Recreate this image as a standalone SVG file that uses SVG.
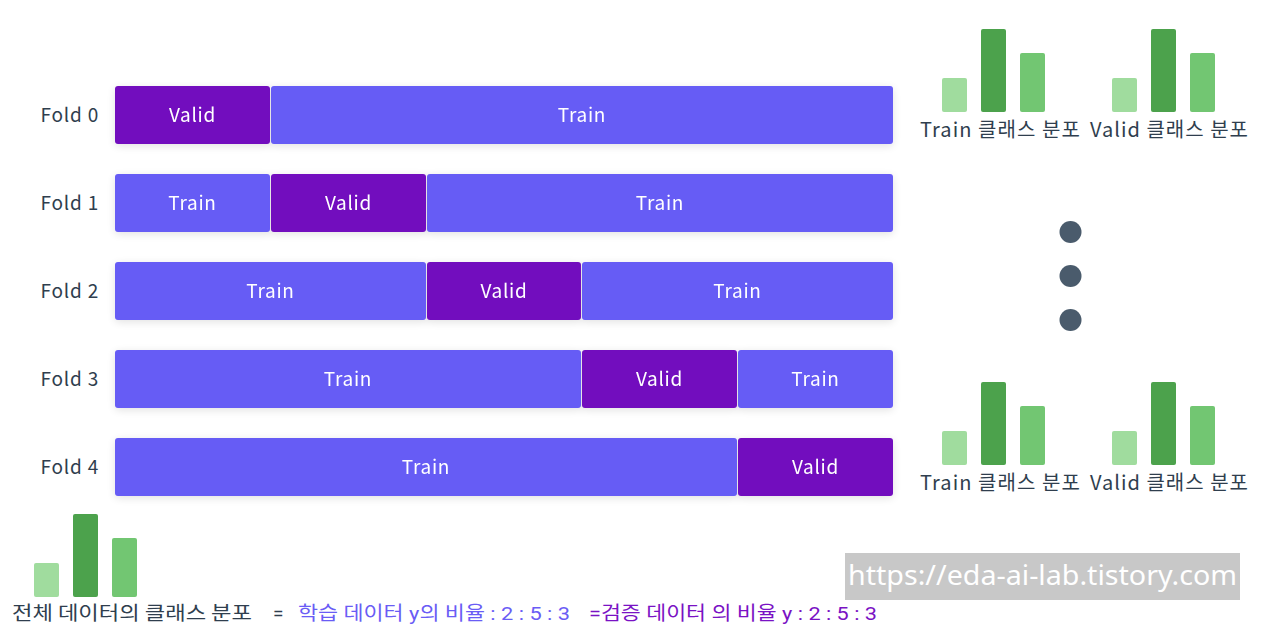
<svg xmlns="http://www.w3.org/2000/svg" width="1280" height="641" viewBox="0 0 1280 641">
<defs>
<filter id="sh" x="-5%" y="-40%" width="110%" height="180%">
<feGaussianBlur in="SourceAlpha" stdDeviation="4"/>
<feOffset dx="0" dy="2"/>
<feComponentTransfer><feFuncA type="linear" slope="0.12"/></feComponentTransfer>
<feMerge><feMergeNode/><feMergeNode in="SourceGraphic"/></feMerge>
</filter>
<style>
.tr{fill:#665BF5;}
.va{fill:#7210BE;}
.bt{font-family:"Noto Sans CJK KR","Noto Sans",sans-serif;font-size:19px;fill:#ffffff;text-anchor:middle;letter-spacing:0.7px;}
.fl{font-family:"Noto Sans CJK KR","Noto Sans",sans-serif;font-size:19px;fill:#2F3E4E;text-anchor:end;letter-spacing:0.8px;}
.lb{font-family:"Noto Sans CJK KR","Noto Sans",sans-serif;font-size:20px;fill:#2F3E4E;}
.g1{fill:#A0DC9E;}
.g2{fill:#4CA24C;}
.g3{fill:#72C672;}
.dot{fill:#4A5B6C;}
</style>
</defs>
<rect width="1280" height="641" fill="#ffffff"/>

<g id="fold0" filter="url(#sh)">
<rect class="va" x="115" y="86" width="155" height="58" rx="3"/>
<rect class="tr" x="271" y="86" width="622" height="58" rx="3"/>
<text class="bt" x="192.5" y="122">Valid</text>
<text class="bt" x="582" y="122">Train</text>
</g>
<text class="fl" x="99" y="122">Fold 0</text>

<g id="fold1" filter="url(#sh)">
<rect class="tr" x="115" y="174" width="155" height="58" rx="3"/>
<rect class="va" x="271" y="174" width="155" height="58" rx="3"/>
<rect class="tr" x="427" y="174" width="466" height="58" rx="3"/>
<text class="bt" x="192.5" y="210">Train</text>
<text class="bt" x="348.5" y="210">Valid</text>
<text class="bt" x="660" y="210">Train</text>
</g>
<text class="fl" x="99" y="210">Fold 1</text>

<g id="fold2" filter="url(#sh)">
<rect class="tr" x="115" y="262" width="311" height="58" rx="3"/>
<rect class="va" x="427" y="262" width="154" height="58" rx="3"/>
<rect class="tr" x="582" y="262" width="311" height="58" rx="3"/>
<text class="bt" x="270.5" y="298">Train</text>
<text class="bt" x="504" y="298">Valid</text>
<text class="bt" x="737.5" y="298">Train</text>
</g>
<text class="fl" x="99" y="298">Fold 2</text>

<g id="fold3" filter="url(#sh)">
<rect class="tr" x="115" y="350" width="466" height="58" rx="3"/>
<rect class="va" x="582" y="350" width="155" height="58" rx="3"/>
<rect class="tr" x="738" y="350" width="155" height="58" rx="3"/>
<text class="bt" x="348" y="386">Train</text>
<text class="bt" x="659.5" y="386">Valid</text>
<text class="bt" x="815.5" y="386">Train</text>
</g>
<text class="fl" x="99" y="386">Fold 3</text>

<g id="fold4" filter="url(#sh)">
<rect class="tr" x="115" y="438" width="622" height="58" rx="3"/>
<rect class="va" x="738" y="438" width="155" height="58" rx="3"/>
<text class="bt" x="426" y="474">Train</text>
<text class="bt" x="815.5" y="474">Valid</text>
</g>
<text class="fl" x="99" y="474">Fold 4</text>

<g id="dist-top-train">
<rect class="g1" x="942" y="78" width="25" height="34" rx="2"/>
<rect class="g2" x="981" y="29" width="25" height="83" rx="2"/>
<rect class="g3" x="1020" y="53" width="25" height="59" rx="2"/>
<text class="lb" x="920" y="137" textLength="160" lengthAdjust="spacing">Train 클래스 분포</text>
</g>
<g id="dist-top-valid">
<rect class="g1" x="1112" y="78" width="25" height="34" rx="2"/>
<rect class="g2" x="1151" y="29" width="25" height="83" rx="2"/>
<rect class="g3" x="1190" y="53" width="25" height="59" rx="2"/>
<text class="lb" x="1090" y="137" textLength="158" lengthAdjust="spacing">Valid 클래스 분포</text>
</g>

<g id="ellipsis">
<circle class="dot" cx="1070.5" cy="232" r="11"/>
<circle class="dot" cx="1070.5" cy="276" r="11"/>
<circle class="dot" cx="1070.5" cy="320" r="11"/>
</g>

<g id="dist-bot-train">
<rect class="g1" x="942" y="431" width="25" height="34" rx="2"/>
<rect class="g2" x="981" y="382" width="25" height="83" rx="2"/>
<rect class="g3" x="1020" y="406" width="25" height="59" rx="2"/>
<text class="lb" x="920" y="490" textLength="160" lengthAdjust="spacing">Train 클래스 분포</text>
</g>
<g id="dist-bot-valid">
<rect class="g1" x="1112" y="431" width="25" height="34" rx="2"/>
<rect class="g2" x="1151" y="382" width="25" height="83" rx="2"/>
<rect class="g3" x="1190" y="406" width="25" height="59" rx="2"/>
<text class="lb" x="1090" y="490" textLength="158" lengthAdjust="spacing">Valid 클래스 분포</text>
</g>

<g id="dist-all">
<rect class="g1" x="34" y="563" width="25" height="34" rx="2"/>
<rect class="g2" x="73" y="514" width="25" height="83" rx="2"/>
<rect class="g3" x="112" y="538" width="25" height="59" rx="2"/>
<text x="12" y="620" font-family="'Noto Sans CJK KR','Noto Sans',sans-serif" font-size="19" fill="#2F3E4E" textLength="240" lengthAdjust="spacingAndGlyphs">전체 데이터의 클래스 분포</text>
</g>

<g id="ratios" font-family="Roboto,'Noto Sans CJK KR',sans-serif" font-size="19">
<text x="273" y="620" fill="#2F3E4E">=</text>
<text x="298" y="620" fill="#6A5CF5" textLength="272" lengthAdjust="spacingAndGlyphs">학습 데이터 y의 비율 : 2 : 5 : 3</text>
<text x="589" y="620" fill="#7A12C4" textLength="288" lengthAdjust="spacingAndGlyphs">=검증 데이터 의 비율 y : 2 : 5 : 3</text>
</g>

<g id="watermark">
<rect x="845" y="553" width="395" height="47" fill="#C8C8C8"/>
<text x="848" y="585" font-family="'Noto Sans','Open Sans',sans-serif" font-size="28" fill="#ffffff" textLength="389" lengthAdjust="spacingAndGlyphs">https://eda-ai-lab.tistory.com</text>
</g>
</svg>
